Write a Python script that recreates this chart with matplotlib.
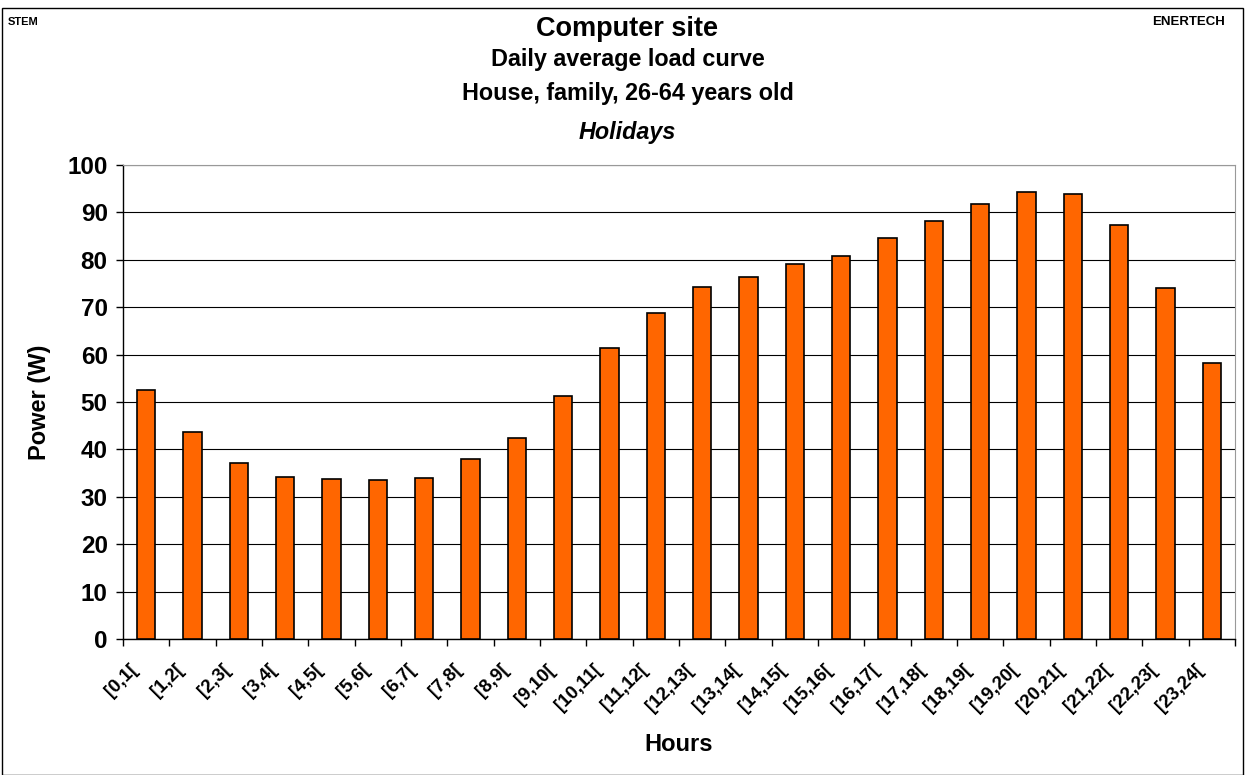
import matplotlib.pyplot as plt
import matplotlib.transforms as mtransforms
from matplotlib.patches import Rectangle
import numpy as np

plt.rcParams['font.family'] = ['Liberation Sans', 'DejaVu Sans']

hours = [f"[{h},{h + 1}[" for h in range(24)]
power = [52.5, 43.7, 37.1, 34.2, 33.8, 33.5, 34.0, 38.0, 42.4, 51.3,
         61.4, 68.8, 74.3, 76.4, 79.1, 80.8, 84.6, 88.2, 91.8, 94.3,
         93.9, 87.3, 74.1, 58.2]
y_ticks = list(range(0, 101, 10))

fig = plt.figure(figsize=(12.45, 7.75), dpi=100)
ax = fig.add_axes([0.0988, 0.1755, 0.8932, 0.6115])

x = np.arange(len(hours))
ax.bar(x, power, width=0.4, color='#FF6600', edgecolor='black', linewidth=1.2, zorder=3)

ax.set_xlim(-0.5, len(hours) - 0.5)
ax.set_ylim(0, 100)
ax.set_yticks(y_ticks)
ax.tick_params(axis='y', labelsize=17.5, length=5, width=1, pad=6)
for t in ax.get_yticklabels():
    t.set_fontweight('bold')

ax.set_xticks(x)
ax.set_xticklabels(hours, rotation=45, ha='right', rotation_mode='anchor',
                   fontsize=13.5, fontweight='bold')
ax.tick_params(axis='x', which='major', length=0, pad=16)
shift = mtransforms.ScaledTranslation(-17 / 100, 0, fig.dpi_scale_trans)
for t in ax.get_xticklabels():
    t.set_transform(t.get_transform() + shift)
ax.set_xticks(np.arange(-0.5, len(hours)), minor=True)
ax.tick_params(axis='x', which='minor', length=5, width=1)

ax.yaxis.grid(True, color='black', linewidth=0.8, zorder=0)
ax.set_axisbelow(True)
for side in ('top', 'right'):
    ax.spines[side].set_color('#999999')
ax.spines['left'].set_linewidth(1)
ax.spines['bottom'].set_linewidth(1)

ax.set_ylabel('Power (W)', fontsize=17, fontweight='bold')
ax.set_xlabel('Hours', fontsize=17, fontweight='bold')
ax.yaxis.set_label_coords(-0.075, 0.5)
ax.xaxis.set_label_coords(0.5, -0.222)
ax.xaxis.label.set_va('center')
ax.yaxis.label.set_va('center')

fig.text(0.504, 0.962, 'Computer site', ha='center', va='center', fontsize=19.5, fontweight='bold')
fig.text(0.504, 0.923, 'Daily average load curve', ha='center', va='center', fontsize=16.8, fontweight='bold')
fig.text(0.504, 0.879, 'House, family, 26-64 years old', ha='center', va='center', fontsize=16.8, fontweight='bold')
fig.text(0.504, 0.829, 'Holidays', ha='center', va='center', fontsize=16.8, fontweight='bold', style='italic')
fig.text(0.006, 0.972, 'STEM', ha='left', va='center', fontsize=8, fontweight='bold')
fig.text(0.984, 0.972, 'ENERTECH', ha='right', va='center', fontsize=9.5, fontweight='bold')

fig.patches.append(Rectangle((0.002, 0.0), 0.996, 0.99, transform=fig.transFigure,
                             fill=False, edgecolor='black', linewidth=1))

fig.savefig('out.png', dpi=100)
